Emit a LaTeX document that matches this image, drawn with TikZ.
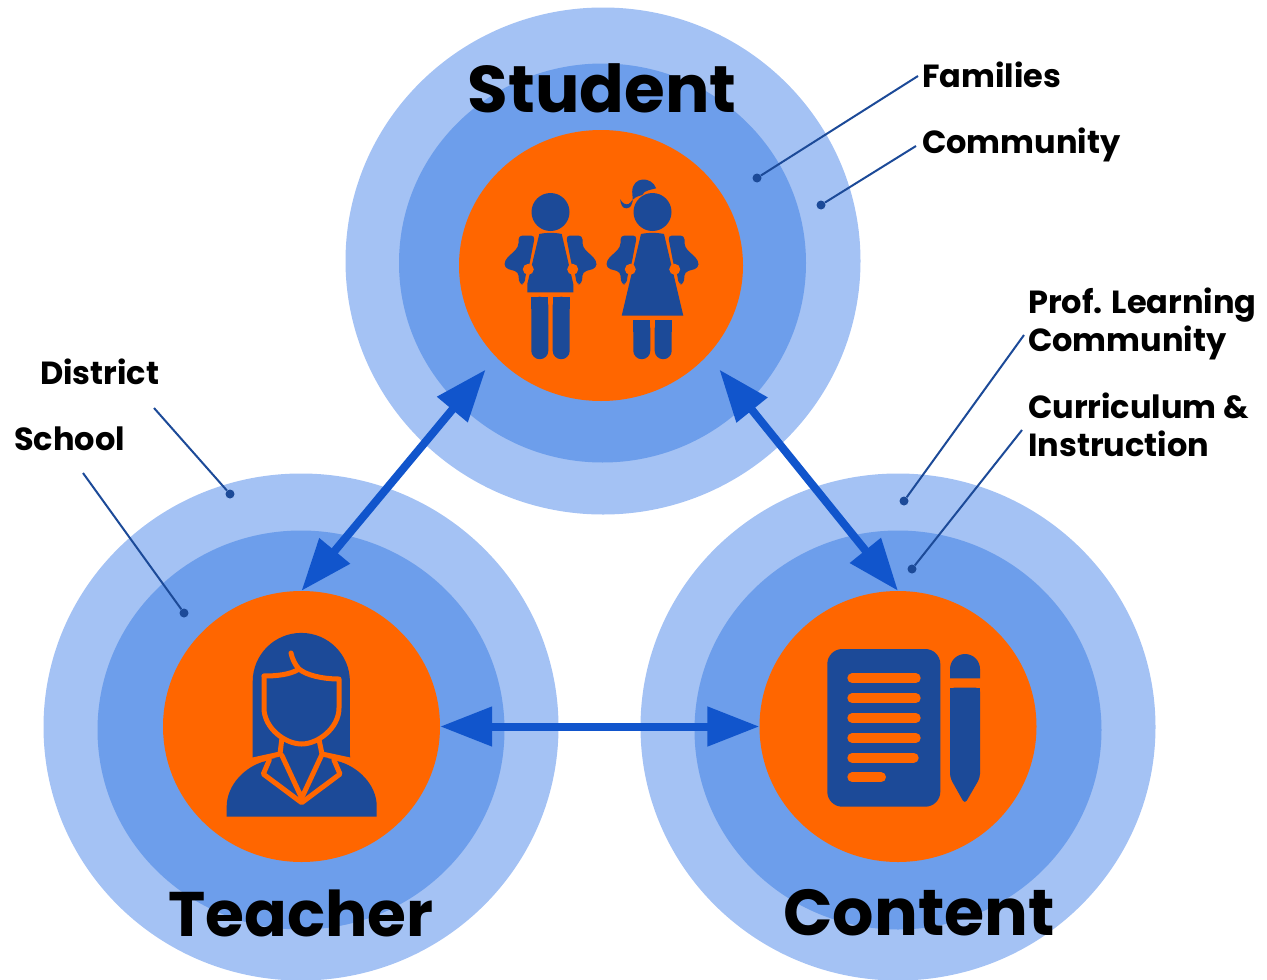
\documentclass[tikz,border=0pt]{standalone}
\usepackage{fontspec}
\setmainfont{Poppins}
\usetikzlibrary{arrows.meta,shapes.geometric}

\definecolor{ringout}{HTML}{A4C2F4}
\definecolor{ringmid}{HTML}{6D9EEB}
\definecolor{coreorange}{HTML}{FF6600}
\definecolor{icondark}{HTML}{1C4A98}
\definecolor{arrowblue}{HTML}{1155CC}

\tikzset{
  outerring/.style={ellipse,inner sep=0pt,fill=ringout,minimum width=515pt,minimum height=507pt},
  middlering/.style={ellipse,inner sep=0pt,fill=ringmid,minimum width=407pt,minimum height=399pt},
  corering/.style={ellipse,inner sep=0pt,fill=coreorange,minimum width=277pt,minimum height=271pt},
  bigname/.style={font=\fontsize{#1}{65}\selectfont\bfseries,text=black,inner sep=0pt},
  smallname/.style={font=\fontsize{32}{38}\selectfont\bfseries,text=black,inner sep=0pt,align=left,anchor=west},
  leaderdot/.style={circle,inner sep=0pt,minimum size=9pt,fill=icondark},
  leader/.style={draw=icondark,line width=2pt},
  twoway/.style={draw=arrowblue,line width=8pt,{Triangle[length=52pt,width=38pt]}-{Triangle[length=52pt,width=38pt]}},
  cutline/.style={draw=coreorange,line width=5pt,line cap=round,line join=round},
  kidtop/.pic={
    \fill[icondark] (0,0) circle[radius=19pt];
    \foreach \flip in {1,-1}{
      \fill[icondark,rounded corners=4pt,xscale=\flip] (-15.5,23.5) -- (-32,23.5) -- (-32,35) -- (-46,48.5) -- (-46,56) -- (-32,60) -- (-31.5,72) -- (-26,72.5) -- (-25,63) -- (-21.2,53) -- cycle;
    }
  },
  kidknobs/.pic={
    \foreach \flip in {1,-1}{
      \fill[coreorange,xscale=\flip] (-22.2,57.3) circle[radius=5.5pt];
    }
  },
  pics/kidlegs/.style={code={
    \foreach \leg in {-19.2,2.2}{
      \fill[icondark,rounded corners=8.4pt] (\leg,0) -- (\leg+17,0) -- (\leg+17,#1) -- (\leg,#1) -- cycle;
      \fill[icondark] (\leg,0) rectangle (\leg+17,12);
    }
  }}
}

\begin{document}
\begin{tikzpicture}[x=1pt,y=-1pt]
  \useasboundingbox (0,0) rectangle (1267,980);
  \clip (0,0) rectangle (1267,980);

  % rings
  \node[outerring] (studentouter) at (603,261) {};
  \node[outerring] (teacherouter) at (301,727) {};
  \node[outerring] (contentouter) at (898,727) {};
  \node[middlering] (studentmiddle) at (602.5,263) {};
  \node[middlering] (teachermiddle) at (301,730) {};
  \node[middlering] (contentmiddle) at (898,730) {};
  \node[corering,minimum width=284pt] (studentcore) at (601,265.5) {};
  \node[corering] (teachercore) at (301.5,726.5) {};
  \node[corering] (contentcore) at (898,726.5) {};

  % student icon
  \pic at (550.5,212) {kidtop};
  \fill[icondark] (539.3,234) .. controls (546,232.5) and (555,232.5) .. (561.7,234) -- (573.3,284) -- (573.3,292.3) -- (527.3,292.3) -- (527.3,284) -- cycle;
  \pic at (550.5,212) {kidknobs};
  \pic at (550.5,296.7) {kidlegs=62.5};
  \pic at (652.5,212) {kidtop};
  \fill[icondark] (641,234) .. controls (648,232.5) and (657,232.5) .. (664,234) -- (683.3,315.7) -- (621.7,315.7) -- cycle;
  \pic at (652.5,212) {kidknobs};
  \pic at (652.5,320) {kidlegs=39.2};
  \fill[icondark,shift={(652.5,212)}] (3.7,-23.7) .. controls (-1,-36) and (-20,-36) .. (-20.3,-20.3) .. controls (-20,-14) and (-18,-5) .. (-25.7,-3.7) .. controls (-30,-3) and (-32,-8) .. (-32.3,-12.7) .. controls (-30,-8) and (-26,-7) .. (-24,-8) .. controls (-20,-10) and (-22,-14) .. (-10.3,-17) .. controls (-8,-22) and (-2,-22) .. cycle;

  % teacher icon
  \fill[icondark] (252.7,758.3) -- (252.7,681.5) arc[start angle=180,end angle=0,radius=48.6pt] -- (350,758.3) -- cycle;
  \fill[icondark] (226.7,816.7) -- (226.7,806) .. controls (227,785) and (245,766) .. (266,761) -- (301,750) -- (337,761) .. controls (358,766) and (376.7,785) .. (376.7,806) -- (376.7,816.7) -- cycle;
  \draw[cutline] (264,676) -- (264,708) .. controls (264,728) and (285,744) .. (301.7,744) .. controls (318,744) and (339,728) .. (339,708) -- (339,679) .. controls (322,679) and (306,675) .. (299,669) .. controls (295,665) and (292,658) .. (291,653);
  \draw[cutline] (299,669) .. controls (290,675) and (275,676) .. (264,676);
  \draw[cutline] (252.7,760) -- (280,754) -- (281.7,740);
  \draw[cutline] (350,760) -- (322,754) -- (319.3,741);
  \draw[cutline] (281.7,755) -- (301.7,798) -- (321.7,755);
  \draw[cutline] (269.3,760) -- (263.3,774) -- (301.7,802.7) -- (340,774) -- (334,760);

  % content icon
  \fill[icondark,rounded corners=15pt] (827.3,649) rectangle (940.3,806.7);
  \foreach \ly/\lx in {678.3/915.7,698.3/915.7,718/915.7,738/915.7,757.7/913.7,777.3/881}{
    \draw[coreorange,line width=10pt,line cap=round] (852.3,\ly) -- (\lx,\ly);
  }
  \fill[icondark] (950,678.3) -- (950,669) arc[start angle=180,end angle=0,radius=15pt] -- (980,678.3) -- cycle;
  \fill[icondark,rounded corners=4pt] (950,687.7) -- (980,687.7) -- (980,777.7) -- (964.8,804) -- (950,777.7) -- cycle;
  \fill[icondark] (950,687.7) rectangle (980,700);

  % arrows
  \draw[twoway] (teachercore.north) -- ([xshift=-12pt,yshift=-11pt]studentcore.222);
  \draw[twoway] (contentcore.north) -- ([xshift=15pt,yshift=-11pt]studentcore.318);
  \draw[twoway] (teachercore.east) -- (contentcore.west);

  % titles
  \node[bigname=66] (studentname) at (602,88) {Student};
  \node[bigname=63] (teachername) at (301,913) {Teacher};
  \node[bigname=65] (contentname) at (919,913) {Content};

  % side labels
  \node[smallname] (familieslabel) at (922,75) {Families};
  \node[smallname] (communitylabel) at (922,145) {Community};
  \node[smallname] (profs) at (1028,324) {Prof. Learning\\Community};
  \node[smallname] (curric) at (1028,425) {Curriculum \&\\Instruction};
  \node[smallname] (districtlabel) at (40,372) {District};
  \node[smallname] (schoollabel) at (14,439) {School};

  \node[leaderdot] (familiesdot) at (757,178) {};
  \node[leaderdot] (communitydot) at (821,205) {};
  \node[leaderdot] (profdot) at (904,501) {};
  \node[leaderdot] (curricdot) at (912,569) {};
  \node[leaderdot] (districtdot) at (230,494) {};
  \node[leaderdot] (schooldot) at (184,613) {};
  \coordinate (familiesend) at (918,76);
  \coordinate (communityend) at (916,146);
  \coordinate (profend) at (1024,335);
  \coordinate (curricend) at (1022,430);
  \coordinate (districtend) at (154,408);
  \coordinate (schoolend) at (83,473);
  \draw[leader] (familiesend) -- (familiesdot);
  \draw[leader] (communityend) -- (communitydot);
  \draw[leader] (profend) -- (profdot);
  \draw[leader] (curricend) -- (curricdot);
  \draw[leader] (districtend) -- (districtdot);
  \draw[leader] (schoolend) -- (schooldot);
\end{tikzpicture}
\end{document}
